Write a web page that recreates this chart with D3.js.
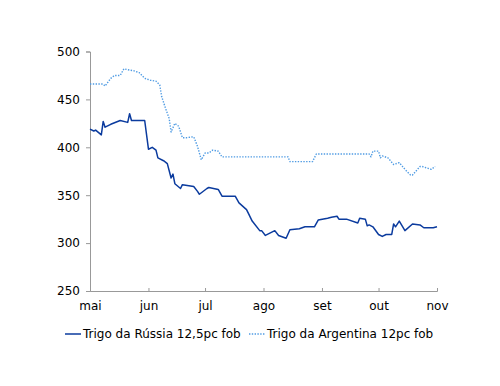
<!DOCTYPE html>
<html>
<head>
<meta charset="utf-8">
<script src="https://cdn.jsdelivr.net/npm/d3@7"></script>
<style>
  body { margin: 0; background: #fff; }
  text { font-family: "DejaVu Sans", Verdana, sans-serif; }
</style>
</head>
<body>
<div id="chart"></div>
<script>
// Trigo da Rússia 12,5pc fob (date, US$/t)
const russiaDates = ["05-01","05-03","05-04","05-07","05-08","05-09","05-12","05-17","05-21","05-22","05-23","05-30",
  "06-01","06-03","06-05","06-06","06-09","06-11","06-13","06-14","06-15","06-18","06-19","06-25","06-27","06-28",
  "07-02","07-03","07-08","07-10","07-17","07-19","07-23","07-24","07-26","07-30","07-31",
  "08-02","08-07","08-09","08-13","08-15","08-20","08-23","08-28","08-30",
  "09-04","09-06","09-09","09-10","09-14","09-20","09-21","09-24","09-25","09-26","09-28",
  "10-01","10-03","10-05","10-08","10-09","10-10","10-12","10-15","10-19","10-23","10-25","10-30","11-01"];
const russiaValues = [419,417,418,413,427,421,424,428,426,435,428,428,
  398,400,397,389,386,383,368,372,362,357,361,359,354,351,
  357,358,356,349,349,342,335,331,323,313,313,
  308,313,308,305,314,315,317,317,324,
  326,327,328,325,325,321,326,325,318,319,317,
  309,307,309,309,320,317,323,313,320,319,316,316,317];

// Trigo da Argentina 12pc fob
const argDates = ["05-01","05-08","05-09","05-12","05-14","05-17","05-19","05-21","05-24","05-27","05-30",
  "06-02","06-05","06-07","06-08","06-10","06-12","06-13","06-15","06-17","06-19","06-21","06-25","06-27","06-29",
  "07-01","07-03","07-05","07-08","07-10","08-14","08-15","08-27","08-29",
  "09-26","09-27","09-28","10-01","10-02","10-03","10-06","10-09","10-12","10-15","10-18","10-19","10-23","10-24","10-29","10-31"];
const argValues = [466,466,464,472,475,475,482,481,480,478,472,
  470,469,465,453,441,430,416,425,422,410,410,411,401,387,
  394,394,397,396,390,390,385,385,393,
  393,390,396,396,389,391,389,382,384,377,371,371,380,380,377,380];

const monthLabels = ["mai","jun","jul","ago","set","out","nov"];
const yTicks = [250,300,350,400,450,500];

const width = 500, height = 386;
const margin = {left: 90, right: 63, top: 51.5, bottom: 95};
const parse = d3.timeParse("%Y-%m-%d");

const series = [
  {name: "Trigo da Rússia 12,5pc fob", color: "#0b3b9e", dash: null, width: 1.5,
   values: russiaDates.map((d, i) => ({date: parse("2023-" + d), v: russiaValues[i]}))},
  {name: "Trigo da Argentina 12pc fob", color: "#4f9be3", dash: "1.4,1.4", width: 1.4,
   values: argDates.map((d, i) => ({date: parse("2023-" + d), v: argValues[i]}))}
];

const svg = d3.select("#chart").append("svg")
  .attr("width", width).attr("height", height);

const x = d3.scaleTime()
  .domain([parse("2023-05-01"), parse("2023-11-01")])
  .range([margin.left, width - margin.right]);
const y = d3.scaleLinear()
  .domain([250, 500])
  .range([height - margin.bottom, margin.top]);

// y axis
const yAxis = svg.append("g")
  .attr("transform", `translate(${margin.left},0)`)
  .call(d3.axisLeft(y).tickValues(yTicks).tickSize(4).tickPadding(6));
yAxis.selectAll("text").attr("font-size", 12).attr("fill", "#000");

// x axis, ticks point inward
const monthTicks = d3.timeMonth.range(parse("2023-05-01"), parse("2023-11-02"));
const xAxis = svg.append("g")
  .attr("transform", `translate(0,${y(250)})`)
  .call(d3.axisBottom(x).tickValues(monthTicks).tickSize(-3).tickPadding(10)
    .tickFormat((d, i) => monthLabels[i]));
xAxis.selectAll("text").attr("font-size", 12).attr("fill", "#000");

svg.selectAll(".domain, .tick line").attr("stroke", "#999").attr("stroke-width", 1);

const line = d3.line().x(d => x(d.date)).y(d => y(d.v));

svg.selectAll("path.series")
  .data(series)
  .enter()
  .append("path")
  .attr("class", "series")
  .attr("fill", "none")
  .attr("stroke", d => d.color)
  .attr("stroke-width", d => d.width)
  .attr("stroke-dasharray", d => d.dash)
  .attr("stroke-linejoin", "round")
  .attr("d", d => line(d.values));

// legend
const legendX = [65, 249];
const legend = svg.selectAll("g.legend")
  .data(series)
  .enter()
  .append("g")
  .attr("class", "legend")
  .attr("transform", (d, i) => `translate(${legendX[i]},334)`);
legend.append("line")
  .attr("x1", 0).attr("x2", 16)
  .attr("stroke", d => d.color)
  .attr("stroke-width", d => d.width)
  .attr("stroke-dasharray", d => d.dash);
legend.append("text")
  .attr("x", 18).attr("dy", "0.35em")
  .attr("font-size", 12)
  .text(d => d.name);
</script>
</body>
</html>
